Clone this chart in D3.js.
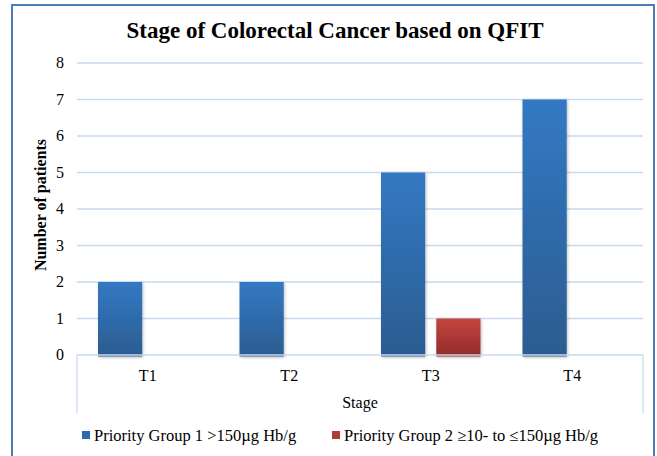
<!DOCTYPE html>
<html><head><meta charset="utf-8">
<script src="https://cdn.jsdelivr.net/npm/d3@7"></script>
<style>body{margin:0;background:#fff}svg{display:block}</style>
</head><body>
<script>
const categories = ["T1","T2","T3","T4"];
const seriesNames = ["Priority Group 1 >150µg Hb/g","Priority Group 2 ≥10- to ≤150µg Hb/g"];
const group1 = [2,2,5,7];
const group2 = [0,0,1,0];
const yTicks = [0,1,2,3,4,5,6,7,8];
const title = "Stage of Colorectal Cancer based on QFIT";
const xTitle = "Stage";
const yTitle = "Number of patients";

const W=657,H=456;
const svg=d3.select("body").append("svg").attr("width",W).attr("height",H);
const defs=svg.append("defs");
function grad(id,top,bot){
  const g=defs.append("linearGradient").attr("id",id).attr("x1",0).attr("y1",0).attr("x2",0).attr("y2",1);
  g.append("stop").attr("offset","0%").attr("stop-color",top);
  g.append("stop").attr("offset","100%").attr("stop-color",bot);
}
grad("gBlue","#3179C3","#2C5C90");
grad("gRed","#C4463F","#932A2B");
const f=defs.append("filter").attr("id","sh").attr("x","-20%").attr("y","-5%").attr("width","140%").attr("height","115%");
f.append("feDropShadow").attr("dx",1).attr("dy",1).attr("stdDeviation",1.5).attr("flood-color","#000").attr("flood-opacity",0.25);

svg.append("rect").attr("x",12).attr("y",5).attr("width",642).attr("height",470)
  .attr("fill","#fff").attr("stroke","#4A7EBB").attr("stroke-width",2);

const L=77,R=643,T=63,B=355;
const x0=d3.scaleBand().domain(categories).range([L,R]).padding(0);
const x1=d3.scaleBand().domain([0,1]).range([21,x0.bandwidth()-21]).paddingInner(0.2);
const y=d3.scaleLinear().domain([0,8]).range([B,T]);

const serif="'Liberation Serif','Times New Roman',serif";
svg.append("text").attr("x",335).attr("y",38).attr("text-anchor","middle")
  .attr("font-family",serif).attr("font-weight","bold").attr("font-size",23).text(title);

// gridlines
svg.append("g").selectAll("line").data(yTicks.filter(d=>d>0)).join("line")
  .attr("x1",L).attr("x2",R).attr("y1",d=>y(d)).attr("y2",d=>y(d))
  .attr("stroke","#C9D9EE").attr("stroke-width",1.3);

// y tick labels
svg.append("g").selectAll("text").data(yTicks).join("text")
  .attr("x",64).attr("y",d=>y(d)+5).attr("text-anchor","end")
  .attr("font-family",serif).attr("font-size",16).attr("fill","#000").text(d=>d);

// bars
const data=[group1,group2];
const fills=["url(#gBlue)","url(#gRed)"];
categories.forEach((c,i)=>{
  data.forEach((s,k)=>{
    if(s[i]<=0) return;
    svg.append("rect").attr("x",x0(c)+x1(k)).attr("width",x1.bandwidth())
      .attr("y",y(s[i])).attr("height",y(0)-y(s[i])+1.5)
      .attr("fill",fills[k]).attr("filter","url(#sh)");
  });
});

// x axis line and box
svg.append("line").attr("x1",L).attr("x2",R).attr("y1",B).attr("y2",B).attr("stroke","#C9D9EE").attr("stroke-width",1.3);
svg.append("line").attr("x1",L).attr("x2",L).attr("y1",B).attr("y2",413).attr("stroke","#C9D9EE").attr("stroke-width",1.3);
svg.append("line").attr("x1",R).attr("x2",R).attr("y1",B).attr("y2",413).attr("stroke","#C9D9EE").attr("stroke-width",1.3);

svg.append("g").selectAll("text").data(categories).join("text")
  .attr("x",d=>x0(d)+x0.bandwidth()/2).attr("y",381).attr("text-anchor","middle")
  .attr("font-family",serif).attr("font-size",16).text(d=>d);

svg.append("text").attr("x",(L+R)/2).attr("y",408).attr("text-anchor","middle")
  .attr("font-family",serif).attr("font-size",16).text(xTitle);

svg.append("text").attr("transform","translate(46,205) rotate(-90)").attr("text-anchor","middle")
  .attr("font-family",serif).attr("font-weight","bold").attr("font-size",16).text(yTitle);

// legend
const legX=[82,332];
const legCol=["#2E6BAE","#B03A38"];
seriesNames.forEach((n,k)=>{
  svg.append("rect").attr("x",legX[k]).attr("y",431).attr("width",8).attr("height",8).attr("fill",legCol[k]);
  svg.append("text").attr("x",legX[k]+12).attr("y",441).attr("font-family",serif).attr("font-size",16.5).text(n);
});
</script>
</body></html>
